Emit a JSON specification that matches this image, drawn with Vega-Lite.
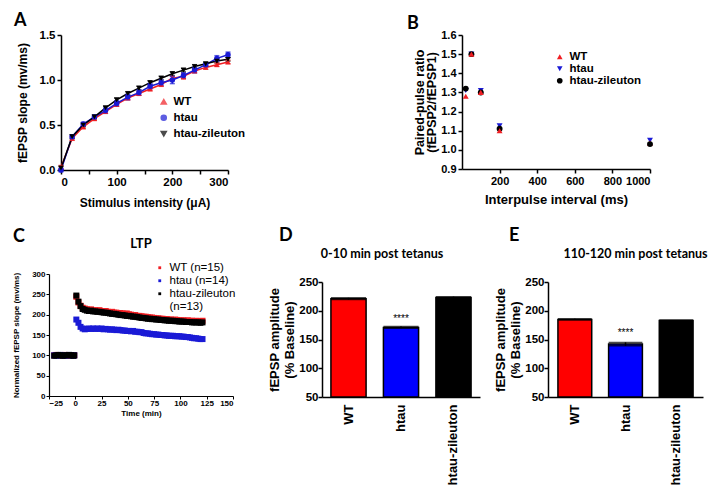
{
 "$schema": "https://vega.github.io/schema/vega-lite/v6.json",
 "padding": {"left": 12, "top": 12, "right": 0, "bottom": 0},
 "spacing": 18,
 "resolve": {"scale": {"color": "independent", "shape": "independent"}, "legend": {"color": "independent", "shape": "independent"}},
 "datasets": {
  "io": [
   {"x":0,"g":"WT","y":0.03,"e":0.02},{"x":0,"g":"htau","y":0.0,"e":0.02},{"x":0,"g":"htau-zileuton","y":0.02,"e":0.02},
   {"x":20,"g":"WT","y":0.35,"e":0.02},{"x":20,"g":"htau","y":0.37,"e":0.02},{"x":20,"g":"htau-zileuton","y":0.37,"e":0.02},
   {"x":40,"g":"WT","y":0.48,"e":0.02},{"x":40,"g":"htau","y":0.51,"e":0.02},{"x":40,"g":"htau-zileuton","y":0.50,"e":0.02},
   {"x":60,"g":"WT","y":0.57,"e":0.02},{"x":60,"g":"htau","y":0.59,"e":0.02},{"x":60,"g":"htau-zileuton","y":0.59,"e":0.02},
   {"x":80,"g":"WT","y":0.65,"e":0.02},{"x":80,"g":"htau","y":0.66,"e":0.03},{"x":80,"g":"htau-zileuton","y":0.69,"e":0.02},
   {"x":100,"g":"WT","y":0.73,"e":0.02},{"x":100,"g":"htau","y":0.74,"e":0.03},{"x":100,"g":"htau-zileuton","y":0.78,"e":0.02},
   {"x":120,"g":"WT","y":0.80,"e":0.02},{"x":120,"g":"htau","y":0.81,"e":0.03},{"x":120,"g":"htau-zileuton","y":0.85,"e":0.02},
   {"x":140,"g":"WT","y":0.85,"e":0.02},{"x":140,"g":"htau","y":0.86,"e":0.03},{"x":140,"g":"htau-zileuton","y":0.91,"e":0.02},
   {"x":160,"g":"WT","y":0.90,"e":0.02},{"x":160,"g":"htau","y":0.93,"e":0.03},{"x":160,"g":"htau-zileuton","y":0.97,"e":0.02},
   {"x":180,"g":"WT","y":0.95,"e":0.02},{"x":180,"g":"htau","y":0.97,"e":0.03},{"x":180,"g":"htau-zileuton","y":1.02,"e":0.02},
   {"x":200,"g":"WT","y":1.02,"e":0.02},{"x":200,"g":"htau","y":1.00,"e":0.04},{"x":200,"g":"htau-zileuton","y":1.07,"e":0.02},
   {"x":220,"g":"WT","y":1.04,"e":0.03},{"x":220,"g":"htau","y":1.05,"e":0.03},{"x":220,"g":"htau-zileuton","y":1.11,"e":0.02},
   {"x":240,"g":"WT","y":1.10,"e":0.02},{"x":240,"g":"htau","y":1.11,"e":0.03},{"x":240,"g":"htau-zileuton","y":1.15,"e":0.02},
   {"x":260,"g":"WT","y":1.14,"e":0.02},{"x":260,"g":"htau","y":1.17,"e":0.02},{"x":260,"g":"htau-zileuton","y":1.18,"e":0.02},
   {"x":280,"g":"WT","y":1.17,"e":0.02},{"x":280,"g":"htau","y":1.24,"e":0.03},{"x":280,"g":"htau-zileuton","y":1.21,"e":0.02},
   {"x":300,"g":"WT","y":1.20,"e":0.02},{"x":300,"g":"htau","y":1.28,"e":0.03},{"x":300,"g":"htau-zileuton","y":1.23,"e":0.02}
  ],
  "ppr": [
   {"ms":20,"g":"WT","r":1.28},{"ms":20,"g":"htau","r":1.31},{"ms":20,"g":"htau-zileuton","r":1.32},
   {"ms":50,"g":"htau","r":1.50},{"ms":50,"g":"htau-zileuton","r":1.50},{"ms":50,"g":"WT","r":1.50},
   {"ms":100,"g":"htau","r":1.31},{"ms":100,"g":"htau-zileuton","r":1.30},{"ms":100,"g":"WT","r":1.30},
   {"ms":200,"g":"htau","r":1.125},{"ms":200,"g":"htau-zileuton","r":1.11},{"ms":200,"g":"WT","r":1.10},
   {"ms":1000,"g":"htau","r":1.05},{"ms":1000,"g":"WT","r":1.035},{"ms":1000,"g":"htau-zileuton","r":1.03}
  ],
  "ltp": [
   {"t":-20,"g":"WT (n=15)","v":100},{"t":-18,"g":"WT (n=15)","v":101},{"t":-16,"g":"WT (n=15)","v":100},{"t":-14,"g":"WT (n=15)","v":99},{"t":-12,"g":"WT (n=15)","v":100},{"t":-10,"g":"WT (n=15)","v":101},{"t":-8,"g":"WT (n=15)","v":100},{"t":-6,"g":"WT (n=15)","v":99},{"t":-4,"g":"WT (n=15)","v":100},{"t":-2,"g":"WT (n=15)","v":100},{"t":-1,"g":"WT (n=15)","v":100},
   {"t":1,"g":"WT (n=15)","v":244},{"t":3,"g":"WT (n=15)","v":230},{"t":5,"g":"WT (n=15)","v":222},{"t":7,"g":"WT (n=15)","v":217},{"t":9,"g":"WT (n=15)","v":215},{"t":11,"g":"WT (n=15)","v":213},{"t":13,"g":"WT (n=15)","v":212},{"t":15,"g":"WT (n=15)","v":213},{"t":17,"g":"WT (n=15)","v":211},{"t":19,"g":"WT (n=15)","v":211},
   {"t":21,"g":"WT (n=15)","v":210},{"t":23,"g":"WT (n=15)","v":211},{"t":25,"g":"WT (n=15)","v":209},{"t":27,"g":"WT (n=15)","v":208},{"t":29,"g":"WT (n=15)","v":209},{"t":31,"g":"WT (n=15)","v":207},{"t":33,"g":"WT (n=15)","v":206},{"t":35,"g":"WT (n=15)","v":207},{"t":37,"g":"WT (n=15)","v":205},{"t":39,"g":"WT (n=15)","v":205},
   {"t":41,"g":"WT (n=15)","v":204},{"t":43,"g":"WT (n=15)","v":204},{"t":45,"g":"WT (n=15)","v":203},{"t":47,"g":"WT (n=15)","v":202},{"t":49,"g":"WT (n=15)","v":203},{"t":51,"g":"WT (n=15)","v":201},{"t":53,"g":"WT (n=15)","v":200},{"t":55,"g":"WT (n=15)","v":199},{"t":57,"g":"WT (n=15)","v":199},{"t":59,"g":"WT (n=15)","v":197},
   {"t":61,"g":"WT (n=15)","v":197},{"t":63,"g":"WT (n=15)","v":196},{"t":65,"g":"WT (n=15)","v":195},{"t":67,"g":"WT (n=15)","v":195},{"t":69,"g":"WT (n=15)","v":194},{"t":71,"g":"WT (n=15)","v":193},{"t":73,"g":"WT (n=15)","v":193},{"t":75,"g":"WT (n=15)","v":192},{"t":77,"g":"WT (n=15)","v":191},{"t":79,"g":"WT (n=15)","v":191},
   {"t":81,"g":"WT (n=15)","v":190},{"t":83,"g":"WT (n=15)","v":190},{"t":85,"g":"WT (n=15)","v":189},{"t":87,"g":"WT (n=15)","v":189},{"t":89,"g":"WT (n=15)","v":188},{"t":91,"g":"WT (n=15)","v":188},{"t":93,"g":"WT (n=15)","v":187},{"t":95,"g":"WT (n=15)","v":188},{"t":97,"g":"WT (n=15)","v":187},{"t":99,"g":"WT (n=15)","v":186},
   {"t":101,"g":"WT (n=15)","v":186},{"t":103,"g":"WT (n=15)","v":186},{"t":105,"g":"WT (n=15)","v":185},{"t":107,"g":"WT (n=15)","v":186},{"t":109,"g":"WT (n=15)","v":185},{"t":111,"g":"WT (n=15)","v":185},{"t":113,"g":"WT (n=15)","v":184},{"t":115,"g":"WT (n=15)","v":185},{"t":117,"g":"WT (n=15)","v":184},{"t":119,"g":"WT (n=15)","v":184},{"t":121,"g":"WT (n=15)","v":185},
   {"t":-20,"g":"htau (n=14)","v":100},{"t":-18,"g":"htau (n=14)","v":99},{"t":-16,"g":"htau (n=14)","v":100},{"t":-14,"g":"htau (n=14)","v":101},{"t":-12,"g":"htau (n=14)","v":100},{"t":-10,"g":"htau (n=14)","v":99},{"t":-8,"g":"htau (n=14)","v":100},{"t":-6,"g":"htau (n=14)","v":101},{"t":-4,"g":"htau (n=14)","v":100},{"t":-2,"g":"htau (n=14)","v":99},{"t":-1,"g":"htau (n=14)","v":100},
   {"t":1,"g":"htau (n=14)","v":188},{"t":3,"g":"htau (n=14)","v":180},{"t":5,"g":"htau (n=14)","v":170},{"t":7,"g":"htau (n=14)","v":166},{"t":9,"g":"htau (n=14)","v":164},{"t":11,"g":"htau (n=14)","v":165},{"t":13,"g":"htau (n=14)","v":166},{"t":15,"g":"htau (n=14)","v":165},{"t":17,"g":"htau (n=14)","v":166},{"t":19,"g":"htau (n=14)","v":165},
   {"t":21,"g":"htau (n=14)","v":166},{"t":23,"g":"htau (n=14)","v":165},{"t":25,"g":"htau (n=14)","v":166},{"t":27,"g":"htau (n=14)","v":164},{"t":29,"g":"htau (n=14)","v":165},{"t":31,"g":"htau (n=14)","v":164},{"t":33,"g":"htau (n=14)","v":163},{"t":35,"g":"htau (n=14)","v":164},{"t":37,"g":"htau (n=14)","v":163},{"t":39,"g":"htau (n=14)","v":162},
   {"t":41,"g":"htau (n=14)","v":163},{"t":43,"g":"htau (n=14)","v":162},{"t":45,"g":"htau (n=14)","v":161},{"t":47,"g":"htau (n=14)","v":161},{"t":49,"g":"htau (n=14)","v":160},{"t":51,"g":"htau (n=14)","v":160},{"t":53,"g":"htau (n=14)","v":159},{"t":55,"g":"htau (n=14)","v":160},{"t":57,"g":"htau (n=14)","v":158},{"t":59,"g":"htau (n=14)","v":158},
   {"t":61,"g":"htau (n=14)","v":157},{"t":63,"g":"htau (n=14)","v":157},{"t":65,"g":"htau (n=14)","v":155},{"t":67,"g":"htau (n=14)","v":154},{"t":69,"g":"htau (n=14)","v":154},{"t":71,"g":"htau (n=14)","v":153},{"t":73,"g":"htau (n=14)","v":152},{"t":75,"g":"htau (n=14)","v":152},{"t":77,"g":"htau (n=14)","v":151},{"t":79,"g":"htau (n=14)","v":151},
   {"t":81,"g":"htau (n=14)","v":150},{"t":83,"g":"htau (n=14)","v":150},{"t":85,"g":"htau (n=14)","v":149},{"t":87,"g":"htau (n=14)","v":149},{"t":89,"g":"htau (n=14)","v":148},{"t":91,"g":"htau (n=14)","v":148},{"t":93,"g":"htau (n=14)","v":148},{"t":95,"g":"htau (n=14)","v":147},{"t":97,"g":"htau (n=14)","v":147},{"t":99,"g":"htau (n=14)","v":147},
   {"t":101,"g":"htau (n=14)","v":146},{"t":103,"g":"htau (n=14)","v":146},{"t":105,"g":"htau (n=14)","v":145},{"t":107,"g":"htau (n=14)","v":145},{"t":109,"g":"htau (n=14)","v":144},{"t":111,"g":"htau (n=14)","v":143},{"t":113,"g":"htau (n=14)","v":142},{"t":115,"g":"htau (n=14)","v":142},{"t":117,"g":"htau (n=14)","v":141},{"t":119,"g":"htau (n=14)","v":140},{"t":121,"g":"htau (n=14)","v":140},
   {"t":-20,"g":"htau-zileuton (n=13)","v":99},{"t":-18,"g":"htau-zileuton (n=13)","v":100},{"t":-16,"g":"htau-zileuton (n=13)","v":101},{"t":-14,"g":"htau-zileuton (n=13)","v":100},{"t":-12,"g":"htau-zileuton (n=13)","v":99},{"t":-10,"g":"htau-zileuton (n=13)","v":100},{"t":-8,"g":"htau-zileuton (n=13)","v":100},{"t":-6,"g":"htau-zileuton (n=13)","v":101},{"t":-4,"g":"htau-zileuton (n=13)","v":100},{"t":-2,"g":"htau-zileuton (n=13)","v":99},{"t":-1,"g":"htau-zileuton (n=13)","v":100},
   {"t":1,"g":"htau-zileuton (n=13)","v":247},{"t":3,"g":"htau-zileuton (n=13)","v":232},{"t":5,"g":"htau-zileuton (n=13)","v":221},{"t":7,"g":"htau-zileuton (n=13)","v":214},{"t":9,"g":"htau-zileuton (n=13)","v":212},{"t":11,"g":"htau-zileuton (n=13)","v":210},{"t":13,"g":"htau-zileuton (n=13)","v":209},{"t":15,"g":"htau-zileuton (n=13)","v":210},{"t":17,"g":"htau-zileuton (n=13)","v":208},{"t":19,"g":"htau-zileuton (n=13)","v":208},
   {"t":21,"g":"htau-zileuton (n=13)","v":207},{"t":23,"g":"htau-zileuton (n=13)","v":207},{"t":25,"g":"htau-zileuton (n=13)","v":206},{"t":27,"g":"htau-zileuton (n=13)","v":205},{"t":29,"g":"htau-zileuton (n=13)","v":205},{"t":31,"g":"htau-zileuton (n=13)","v":204},{"t":33,"g":"htau-zileuton (n=13)","v":203},{"t":35,"g":"htau-zileuton (n=13)","v":202},{"t":37,"g":"htau-zileuton (n=13)","v":202},{"t":39,"g":"htau-zileuton (n=13)","v":201},
   {"t":41,"g":"htau-zileuton (n=13)","v":200},{"t":43,"g":"htau-zileuton (n=13)","v":199},{"t":45,"g":"htau-zileuton (n=13)","v":199},{"t":47,"g":"htau-zileuton (n=13)","v":198},{"t":49,"g":"htau-zileuton (n=13)","v":197},{"t":51,"g":"htau-zileuton (n=13)","v":197},{"t":53,"g":"htau-zileuton (n=13)","v":196},{"t":55,"g":"htau-zileuton (n=13)","v":195},{"t":57,"g":"htau-zileuton (n=13)","v":195},{"t":59,"g":"htau-zileuton (n=13)","v":194},
   {"t":61,"g":"htau-zileuton (n=13)","v":193},{"t":63,"g":"htau-zileuton (n=13)","v":192},{"t":65,"g":"htau-zileuton (n=13)","v":192},{"t":67,"g":"htau-zileuton (n=13)","v":191},{"t":69,"g":"htau-zileuton (n=13)","v":190},{"t":71,"g":"htau-zileuton (n=13)","v":190},{"t":73,"g":"htau-zileuton (n=13)","v":189},{"t":75,"g":"htau-zileuton (n=13)","v":189},{"t":77,"g":"htau-zileuton (n=13)","v":188},{"t":79,"g":"htau-zileuton (n=13)","v":188},
   {"t":81,"g":"htau-zileuton (n=13)","v":187},{"t":83,"g":"htau-zileuton (n=13)","v":187},{"t":85,"g":"htau-zileuton (n=13)","v":186},{"t":87,"g":"htau-zileuton (n=13)","v":186},{"t":89,"g":"htau-zileuton (n=13)","v":185},{"t":91,"g":"htau-zileuton (n=13)","v":185},{"t":93,"g":"htau-zileuton (n=13)","v":185},{"t":95,"g":"htau-zileuton (n=13)","v":184},{"t":97,"g":"htau-zileuton (n=13)","v":184},{"t":99,"g":"htau-zileuton (n=13)","v":183},
   {"t":101,"g":"htau-zileuton (n=13)","v":183},{"t":103,"g":"htau-zileuton (n=13)","v":183},{"t":105,"g":"htau-zileuton (n=13)","v":182},{"t":107,"g":"htau-zileuton (n=13)","v":182},{"t":109,"g":"htau-zileuton (n=13)","v":182},{"t":111,"g":"htau-zileuton (n=13)","v":181},{"t":113,"g":"htau-zileuton (n=13)","v":181},{"t":115,"g":"htau-zileuton (n=13)","v":181},{"t":117,"g":"htau-zileuton (n=13)","v":181},{"t":119,"g":"htau-zileuton (n=13)","v":180},{"t":121,"g":"htau-zileuton (n=13)","v":181}
  ],
  "early": [
   {"g":"WT","v":221,"e":1.5,"s":""},{"g":"htau","v":171,"e":1.5,"s":"****"},{"g":"htau-zileuton","v":223,"e":1.5,"s":""}
  ],
  "late": [
   {"g":"WT","v":185,"e":1,"s":""},{"g":"htau","v":142,"e":3,"s":"****"},{"g":"htau-zileuton","v":183,"e":1,"s":""}
  ],
  "blank": [{}]
 },
 "vconcat": [
  {
   "hconcat": [
    {"width": 13, "height": 1, "data": {"name": "blank"}, "mark": {"type": "text", "text": ""}, "encoding": {}},
    {
     "width": 167, "height": 135,
     "title": {"text": "A", "anchor": "start", "frame": "group", "fontSize": 18, "dx": -47, "offset": 0, "baseline": "alphabetic", "dy": 15},
     "data": {"name": "io"},
     "encoding": {
      "x": {"field": "x", "type": "quantitative", "scale": {"domain": [0, 300]}, "axis": {"values": [0,50,100,150,200,250,300], "title": "Stimulus intensity (μA)", "titlePadding": 10}},
      "y": {"field": "y", "type": "quantitative", "scale": {"domain": [0, 1.5]}, "axis": {"values": [0,0.5,1,1.5], "format": ".1f", "title": "fEPSP slope (mv/ms)", "titlePadding": 10}},
      "color": {"field": "g", "type": "nominal", "scale": {"domain": ["WT","htau","htau-zileuton"], "range": ["#f01e23","#1a1ad6","#000000"]}, "legend": {"orient": "none", "legendX": 97, "legendY": 61, "title": null, "labelFontSize": 11.5, "labelFontWeight": "bold", "symbolSize": 26, "rowPadding": 3}}
     },
     "layer": [
      {"mark": {"type": "line", "strokeWidth": 1.5}},
      {"mark": {"type": "errorbar", "ticks": true, "thickness": 1.5}, "encoding": {"yError": {"field": "e"}}},
      {"mark": {"type": "point", "filled": true, "size": 30, "opacity": 1},
       "encoding": {
        "shape": {"field": "g", "type": "nominal", "scale": {"domain": ["WT","htau","htau-zileuton"], "range": ["triangle-up","circle","triangle-down"]}, "legend": {"orient": "none", "legendX": 97, "legendY": 61, "title": null, "labelFontSize": 11.5, "labelFontWeight": "bold", "symbolSize": 26, "rowPadding": 3}}
       }}
     ]
    },
    {"width": 234, "height": 1, "data": {"name": "blank"}, "mark": {"type": "text", "text": ""}, "encoding": {}},
    {
     "width": 188, "height": 134,
     "title": {"text": "B", "anchor": "start", "frame": "group", "fontSize": 18, "dx": -55, "offset": 0, "baseline": "alphabetic", "dy": 18},
     "data": {"name": "ppr"},
     "mark": {"type": "point", "filled": true, "size": 35, "opacity": 1},
     "encoding": {
      "x": {"field": "ms", "type": "quantitative", "scale": {"domain": [0, 1000]}, "axis": {"values": [200,400,600,800,1000], "format": "d", "title": "Interpulse interval (ms)", "titleFontSize": 13, "labelFontSize": 11, "titlePadding": 7}},
      "y": {"field": "r", "type": "quantitative", "scale": {"domain": [0.9, 1.6]}, "axis": {"values": [0.9,1.0,1.1,1.2,1.3,1.4,1.5,1.6], "format": ".1f", "title": ["Paired-pulse ratio","(fEPSP2/fEPSP1)"], "titleFontSize": 12.5, "titleLineHeight": 12, "labelFontSize": 11, "titlePadding": 2}},
      "color": {"field": "g", "type": "nominal", "scale": {"domain": ["WT","htau","htau-zileuton"], "range": ["#f01e23","#1a1ad6","#000000"]}, "legend": {"orient": "none", "legendX": 92, "legendY": 16, "title": null, "labelFontSize": 11.5, "labelFontWeight": "bold", "symbolSize": 32, "rowPadding": -1}},
      "shape": {"field": "g", "type": "nominal", "scale": {"domain": ["WT","htau","htau-zileuton"], "range": ["triangle-up","triangle-down","circle"]}, "legend": {"orient": "none", "legendX": 92, "legendY": 16, "title": null, "labelFontSize": 11.5, "labelFontWeight": "bold", "symbolSize": 32, "rowPadding": -1}}
     }
    }
   ],
   "spacing": 0,
   "bounds": "flush",
   "resolve": {"scale": {"color": "independent", "shape": "independent"}, "legend": {"color": "independent", "shape": "independent"}}
  },
  {
   "hconcat": [
    {"width": 1, "height": 1, "data": {"name": "blank"}, "mark": {"type": "text", "text": ""}, "encoding": {},
     "title": {"text": "C", "anchor": "start", "frame": "group", "fontSize": 18, "dx": -35, "offset": 0, "baseline": "alphabetic", "dy": -9}},
    {
     "width": 184, "height": 122,
     "title": {"text": "LTP", "anchor": "middle", "frame": "group", "fontSize": 13, "offset": 0, "baseline": "alphabetic", "dy": -1},
     "data": {"name": "ltp"},
     "mark": {"type": "square", "size": 36, "opacity": 1},
     "encoding": {
      "x": {"field": "t", "type": "quantitative", "scale": {"domain": [-25, 150]}, "axis": {"values": [-25,0,25,50,75,100,125,150], "title": "Time (min)", "labelFontSize": 8, "titleFontSize": 8, "tickSize": 3, "tickWidth": 1, "domainWidth": 1.2, "labelPadding": 0, "titlePadding": 2}},
      "y": {"field": "v", "type": "quantitative", "scale": {"domain": [0, 300]}, "axis": {"values": [0,50,100,150,200,250,300], "title": "Normalized fEPSP slope (mv/ms)", "labelFontSize": 8, "titleFontSize": 8, "tickSize": 3, "tickWidth": 1, "domainWidth": 1.2, "labelPadding": 1, "titlePadding": 11}},
      "color": {"field": "g", "type": "nominal", "scale": {"domain": ["WT (n=15)","htau (n=14)","htau-zileuton (n=13)"], "range": ["#f01e23","#1a1ad6","#000000"]},
       "legend": {"orient": "none", "legendX": 105, "legendY": -12, "title": null, "labelFontSize": 11.5, "labelFontWeight": "normal", "symbolType": "square", "symbolSize": 8, "rowPadding": 0, "labelLineHeight": 13, "labelExpr": "datum.label == 'htau-zileuton (n=13)' ? ['htau-zileuton', '(n=13)'] : datum.label"}}
     }
    },
    {"width": 89, "height": 1, "data": {"name": "blank"}, "mark": {"type": "text", "text": ""}, "encoding": {},
     "title": {"text": "D", "anchor": "start", "frame": "group", "fontSize": 18, "dx": 46, "offset": 0, "baseline": "alphabetic", "dy": -9.5}},
    {
     "width": 158, "height": 123,
     "title": {"text": "0-10 min post tetanus", "anchor": "middle", "frame": "group", "fontSize": 12.5, "dx": -19, "offset": 0, "baseline": "alphabetic", "dy": -4},
     "data": {"name": "early"},
     "encoding": {
      "x": {"field": "g", "type": "nominal", "sort": null, "scale": {"paddingInner": 0.33, "paddingOuter": 0.17}, "axis": {"title": null, "labelAngle": -90, "labelFontSize": 13, "ticks": false, "labelPadding": 7}},
      "y": {"field": "v", "type": "quantitative", "scale": {"domain": [50, 250], "rangeMax": 8}, "axis": {"values": [50,100,150,200,250], "title": ["fEPSP amplitude","(% Baseline)"], "titleFontSize": 13, "titleLineHeight": 15, "labelFontSize": 11.5, "labelPadding": 0, "titlePadding": 2}}
     },
     "layer": [
      {"mark": {"type": "bar", "stroke": "#000", "strokeWidth": 1.5}, "encoding": {"y2": {"datum": 50}, "color": {"field": "g", "type": "nominal", "scale": {"domain": ["WT","htau","htau-zileuton"], "range": ["#ff0000","#0000ff","#000000"]}, "legend": null}}},
      {"mark": {"type": "errorbar", "ticks": true, "color": "#000", "thickness": 1.5}, "encoding": {"yError": {"field": "e"}}},
      {"mark": {"type": "text", "fontSize": 10, "font": "Liberation Sans", "color": "#000", "baseline": "middle", "dy": -8}, "encoding": {"text": {"field": "s"}}}
     ]
    },
    {"width": 68, "height": 1, "data": {"name": "blank"}, "mark": {"type": "text", "text": ""}, "encoding": {},
     "title": {"text": "E", "anchor": "start", "frame": "group", "fontSize": 18, "dx": 29, "offset": 0, "baseline": "alphabetic", "dy": -9.5}},
    {
     "width": 155, "height": 123,
     "title": {"text": "110-120 min post tetanus", "anchor": "middle", "frame": "group", "fontSize": 12.5, "dx": 10, "offset": 0, "baseline": "alphabetic", "dy": -4},
     "data": {"name": "late"},
     "encoding": {
      "x": {"field": "g", "type": "nominal", "sort": null, "scale": {"paddingInner": 0.333, "paddingOuter": 0.196}, "axis": {"title": null, "labelAngle": -90, "labelFontSize": 13, "ticks": false, "labelPadding": 7}},
      "y": {"field": "v", "type": "quantitative", "scale": {"domain": [50, 250], "rangeMax": 8}, "axis": {"values": [50,100,150,200,250], "title": ["fEPSP amplitude","(% Baseline)"], "titleFontSize": 13, "titleLineHeight": 15, "labelFontSize": 11.5, "labelPadding": 0, "titlePadding": 2}}
     },
     "layer": [
      {"mark": {"type": "bar", "stroke": "#000", "strokeWidth": 1.5}, "encoding": {"y2": {"datum": 50}, "color": {"field": "g", "type": "nominal", "scale": {"domain": ["WT","htau","htau-zileuton"], "range": ["#ff0000","#0000ff","#000000"]}, "legend": null}}},
      {"mark": {"type": "errorbar", "ticks": true, "color": "#000", "thickness": 1.5}, "encoding": {"yError": {"field": "e"}}},
      {"mark": {"type": "text", "fontSize": 10, "font": "Liberation Sans", "color": "#000", "baseline": "middle", "dy": -11}, "encoding": {"text": {"field": "s"}}}
     ]
    }
   ],
   "spacing": 0,
   "bounds": "flush",
   "resolve": {"scale": {"color": "independent", "shape": "independent"}, "legend": {"color": "independent", "shape": "independent"}}
  }
 ],
 "config": {
  "view": {"stroke": null},
  "font": "Liberation Sans",
  "axis": {"grid": false, "domainColor": "#000", "tickColor": "#000", "labelColor": "#000", "titleColor": "#000", "labelFont": "Liberation Sans", "titleFont": "Liberation Sans", "labelFontWeight": "bold", "titleFontWeight": "bold", "domainWidth": 1.5, "tickWidth": 1.5, "tickSize": 4, "labelFontSize": 11.5, "titleFontSize": 12},
  "legend": {"labelColor": "#000", "labelFont": "Liberation Sans"},
  "title": {"font": "Lato", "fontWeight": "bold", "color": "#000"}
 }
}
